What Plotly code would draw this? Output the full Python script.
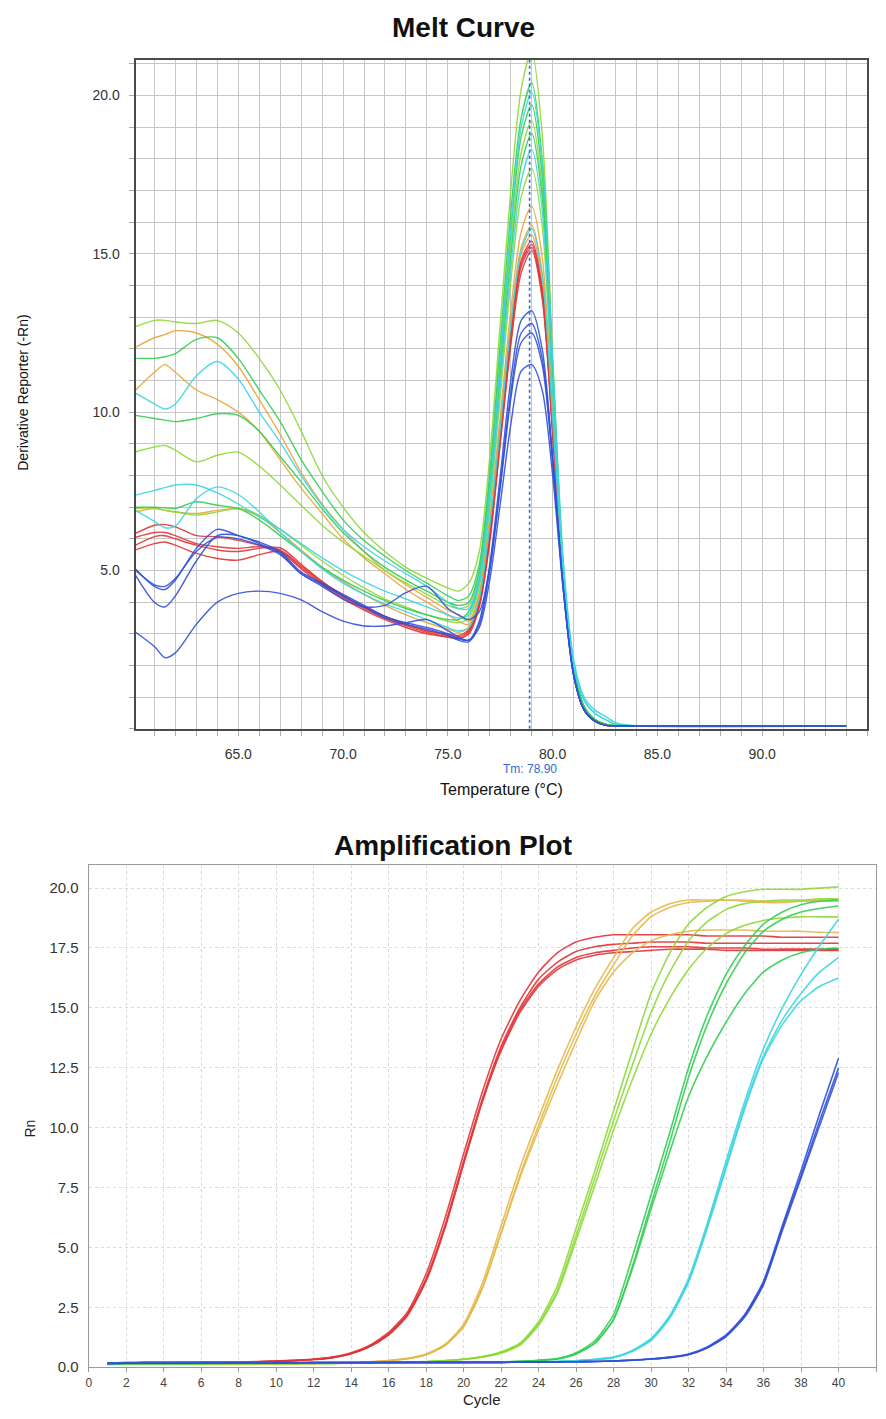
import plotly.graph_objects as go

# ---------------- Melt curve data (Temperature °C vs Derivative Reporter -Rn) ----------------
melt_temp = [60.1, 61, 61.5, 62, 63, 64, 65, 66, 67, 68, 69, 70, 71, 72, 73, 74, 75, 75.5,
             76, 76.5, 77, 77.5, 78, 78.5, 79, 79.5, 80, 80.5, 81, 81.5, 82, 82.5, 83, 84, 94]

melt_ygreen_1 = [12.7, 12.9, 12.9, 12.85, 12.8, 12.9, 12.5, 11.7, 10.7, 9.4, 8.0, 7.0, 6.2, 5.6, 5.1, 4.75, 4.45, 4.35,
                 4.6, 5.6, 8.6, 12.8, 17.0, 20.2, 21.4, 18.8, 11.8, 5.2, 1.9, 0.7, 0.3, 0.15, 0.1, 0.1, 0.1]
melt_green_1 = [11.7, 11.7, 11.75, 11.85, 12.3, 12.35, 11.7, 10.7, 9.7, 8.5, 7.5, 6.6, 5.95, 5.45, 5.0, 4.6, 4.2, 4.05,
                4.2, 5.2, 8.1, 12.2, 16.3, 19.3, 20.4, 18.0, 11.5, 5.1, 1.9, 0.7, 0.3, 0.15, 0.1, 0.1, 0.1]
melt_cyan_1 = [10.6, 10.26, 10.1, 10.26, 11.15, 11.6, 11.05, 10.0, 9.05, 8.0, 7.06, 6.3, 5.75, 5.3, 4.9, 4.5, 4.0, 3.8,
               3.8, 4.8, 7.6, 11.6, 15.8, 19.0, 20.1, 17.9, 11.6, 5.4, 2.2, 1.0, 0.6, 0.4, 0.2, 0.1, 0.1]
melt_green_2 = [9.9, 9.8, 9.75, 9.7, 9.8, 9.95, 9.9, 9.4, 8.6, 7.8, 6.95, 6.2, 5.6, 5.1, 4.7, 4.35, 4.0, 3.9,
                4.0, 5.0, 7.8, 11.7, 15.7, 18.7, 19.7, 17.5, 11.2, 5.0, 1.9, 0.7, 0.3, 0.15, 0.1, 0.1, 0.1]
melt_ygreen_2 = [8.75, 8.9, 8.95, 8.8, 8.43, 8.64, 8.74, 8.3, 7.7, 7.06, 6.43, 5.9, 5.45, 5.0, 4.6, 4.25, 3.9, 3.8,
                 3.9, 4.9, 7.6, 11.4, 15.3, 18.2, 19.2, 17.1, 11.0, 5.0, 1.9, 0.7, 0.3, 0.15, 0.1, 0.1, 0.1]
melt_green_3 = [7.0, 7.0, 6.98, 6.96, 7.17, 7.06, 6.96, 6.6, 6.1, 5.6, 5.1, 4.7, 4.35, 4.05, 3.8, 3.6, 3.45, 3.45,
                3.7, 4.7, 7.4, 11.1, 14.9, 17.8, 18.8, 16.8, 10.9, 5.0, 1.9, 0.7, 0.3, 0.15, 0.1, 0.1, 0.1]
melt_cyan_2 = [7.38, 7.53, 7.62, 7.7, 7.7, 7.45, 7.1, 6.7, 6.3, 5.85, 5.4, 5.0, 4.65, 4.35, 4.1, 3.85, 3.6, 3.5,
               3.6, 4.6, 7.2, 10.8, 14.5, 17.3, 18.3, 16.4, 10.7, 5.2, 2.1, 0.9, 0.5, 0.3, 0.15, 0.1, 0.1]
melt_ygreen_3 = [6.96, 6.98, 6.9, 6.85, 6.75, 6.85, 6.96, 6.75, 6.3, 5.8, 5.3, 4.85, 4.45, 4.1, 3.85, 3.6, 3.4, 3.35,
                 3.5, 4.5, 7.0, 10.5, 14.1, 16.8, 17.7, 15.9, 10.5, 5.0, 1.9, 0.7, 0.3, 0.15, 0.1, 0.1, 0.1]
melt_orange_1 = [12.05, 12.35, 12.45, 12.57, 12.5, 12.15, 11.45, 10.4, 9.3, 8.1, 7.1, 6.3, 5.6, 5.0, 4.55, 4.15, 3.75, 3.6,
                 3.4, 4.3, 6.7, 9.9, 13.2, 15.7, 16.5, 14.9, 10.0, 4.9, 1.85, 0.65, 0.28, 0.13, 0.1, 0.1, 0.1]
melt_orange_2 = [10.7, 11.26, 11.5, 11.26, 10.7, 10.4, 10.0, 9.4, 8.5, 7.6, 6.8, 6.0, 5.4, 4.9, 4.4, 4.0, 3.6, 3.4,
                 3.3, 4.2, 6.5, 9.6, 12.8, 15.2, 15.9, 14.4, 9.8, 4.9, 1.85, 0.65, 0.28, 0.13, 0.1, 0.1, 0.1]
melt_cyan_3 = [6.9, 6.55, 6.35, 6.4, 7.27, 7.64, 7.4, 6.85, 6.2, 5.6, 5.05, 4.6, 4.25, 3.95, 3.7, 3.45, 3.2, 3.1,
               3.2, 4.1, 6.4, 9.5, 12.7, 15.1, 15.8, 14.3, 9.8, 5.0, 2.0, 0.9, 0.5, 0.3, 0.15, 0.1, 0.1]
melt_orange_3 = [6.85, 6.96, 6.9, 6.85, 6.8, 6.9, 6.95, 6.7, 6.2, 5.65, 5.1, 4.65, 4.25, 3.9, 3.6, 3.35, 3.15, 3.05,
                 3.2, 4.1, 6.3, 9.4, 12.6, 15.0, 15.6, 14.1, 9.6, 4.85, 1.8, 0.62, 0.26, 0.12, 0.1, 0.1, 0.1]
melt_red_1 = [6.17, 6.43, 6.45, 6.38, 6.1, 6.07, 5.95, 5.8, 5.65, 5.15, 4.65, 4.2, 3.85, 3.55, 3.3, 3.1, 2.95, 2.9,
              3.1, 4.0, 6.2, 9.3, 12.5, 14.8, 15.4, 13.9, 9.5, 4.8, 1.8, 0.6, 0.25, 0.12, 0.1, 0.1, 0.1]
melt_red_2 = [5.8, 6.07, 6.1, 6.0, 5.8, 5.65, 5.6, 5.7, 5.72, 5.2, 4.65, 4.2, 3.85, 3.55, 3.3, 3.1, 3.0, 2.95,
              3.15, 4.0, 6.1, 9.2, 12.4, 14.7, 15.3, 13.8, 9.4, 4.75, 1.8, 0.6, 0.25, 0.12, 0.1, 0.1, 0.1]
melt_red_3 = [5.65, 5.85, 5.9, 5.8, 5.54, 5.38, 5.33, 5.5, 5.6, 5.1, 4.6, 4.15, 3.8, 3.5, 3.25, 3.05, 2.9, 2.85,
              3.05, 3.9, 6.0, 9.1, 12.2, 14.6, 15.2, 13.7, 9.4, 4.75, 1.8, 0.6, 0.25, 0.12, 0.1, 0.1, 0.1]
melt_red_4 = [6.05, 6.2, 6.2, 6.1, 5.85, 5.75, 5.7, 5.75, 5.6, 5.05, 4.55, 4.1, 3.75, 3.45, 3.2, 3.0, 2.9, 2.85,
              3.0, 3.85, 5.9, 9.0, 12.1, 14.4, 15.1, 13.6, 9.3, 4.7, 1.75, 0.6, 0.25, 0.12, 0.1, 0.1, 0.1]
melt_blue_1 = [5.05, 4.5, 4.4, 4.7, 5.7, 6.3, 6.1, 5.9, 5.6, 4.95, 4.6, 4.25, 3.9, 3.55, 3.35, 3.2, 3.0, 2.85,
               2.8, 3.4, 5.2, 8.0, 11.0, 12.9, 13.2, 12.0, 8.6, 4.5, 1.7, 0.6, 0.25, 0.12, 0.1, 0.1, 0.1]
melt_blue_2 = [4.85, 4.0, 3.85, 4.2, 5.3, 6.1, 6.1, 5.85, 5.55, 4.9, 4.55, 4.2, 3.85, 3.5, 3.3, 3.15, 2.95, 2.8,
               2.75, 3.3, 5.0, 7.7, 10.6, 12.5, 12.8, 11.7, 8.5, 4.5, 1.7, 0.6, 0.25, 0.12, 0.1, 0.1, 0.1]
melt_blue_3 = [5.0, 4.55, 4.5, 4.75, 5.6, 6.05, 6.0, 5.8, 5.5, 4.9, 4.5, 4.1, 3.85, 3.9, 4.3, 4.5, 3.8, 3.6,
               3.45, 3.7, 5.1, 7.6, 10.4, 12.2, 12.5, 11.5, 8.4, 4.5, 1.7, 0.6, 0.25, 0.12, 0.1, 0.1, 0.1]
melt_blue_4 = [3.05, 2.6, 2.25, 2.4, 3.3, 4.0, 4.28, 4.35, 4.28, 4.07, 3.7, 3.4, 3.25, 3.25, 3.35, 3.45, 3.1, 2.9,
               2.8, 3.2, 4.7, 7.1, 9.6, 11.3, 11.5, 10.7, 8.0, 4.4, 1.7, 0.6, 0.25, 0.12, 0.1, 0.1, 0.1]

melt_tm = 78.9
melt_tm_label = "Tm: 78.90"
melt_ytick_vals = [5, 10, 15, 20]

# ---------------- Amplification plot data (Cycle vs Rn) ----------------
cycles = list(range(1, 41))

amp_red_1 = [0.15, 0.18, 0.19, 0.19, 0.19, 0.2, 0.2, 0.21, 0.23, 0.25,
             0.28, 0.33, 0.42, 0.6, 0.92, 1.45, 2.3, 3.9, 6.2, 8.9,
             11.5, 13.7, 15.3, 16.5, 17.3, 17.75, 17.95, 18.05, 18.05, 18.05,
             18.05, 18.05, 18.0, 18.0, 18.0, 18.0, 17.95, 17.95, 17.95, 17.95]
amp_red_2 = [0.16, 0.18, 0.19, 0.19, 0.2, 0.2, 0.2, 0.21, 0.23, 0.25,
             0.28, 0.32, 0.4, 0.57, 0.88, 1.38, 2.2, 3.7, 5.9, 8.6,
             11.2, 13.4, 15.0, 16.2, 16.9, 17.35, 17.55, 17.65, 17.7, 17.75,
             17.75, 17.75, 17.7, 17.7, 17.7, 17.7, 17.7, 17.7, 17.7, 17.7]
amp_red_3 = [0.17, 0.19, 0.2, 0.2, 0.2, 0.2, 0.21, 0.22, 0.23, 0.25,
             0.28, 0.32, 0.4, 0.56, 0.86, 1.35, 2.15, 3.6, 5.8, 8.5,
             11.1, 13.3, 14.9, 16.0, 16.7, 17.1, 17.3, 17.4, 17.5, 17.55,
             17.55, 17.55, 17.5, 17.5, 17.5, 17.45, 17.45, 17.45, 17.45, 17.45]
amp_red_4 = [0.17, 0.19, 0.2, 0.2, 0.2, 0.21, 0.21, 0.22, 0.24, 0.26,
             0.29, 0.33, 0.41, 0.57, 0.87, 1.37, 2.2, 3.65, 5.85, 8.5,
             11.1, 13.2, 14.8, 15.9, 16.6, 17.0, 17.2, 17.3, 17.35, 17.4,
             17.45, 17.45, 17.45, 17.4, 17.4, 17.4, 17.4, 17.4, 17.4, 17.4]
amp_orange_1 = [0.12, 0.13, 0.13, 0.13, 0.13, 0.13, 0.14, 0.14, 0.14, 0.14,
                0.15, 0.16, 0.18, 0.2, 0.23, 0.28, 0.37, 0.55, 0.95, 1.8,
                3.5, 5.9, 8.3, 10.4, 12.4, 14.2, 15.8, 17.1, 18.3, 19.0,
                19.35, 19.5, 19.5, 19.5, 19.5, 19.45, 19.45, 19.45, 19.5, 19.5]
amp_orange_2 = [0.12, 0.13, 0.13, 0.13, 0.13, 0.13, 0.13, 0.14, 0.14, 0.14,
                0.15, 0.16, 0.17, 0.19, 0.22, 0.27, 0.35, 0.52, 0.9, 1.7,
                3.3, 5.6, 8.0, 10.1, 12.1, 13.9, 15.5, 16.8, 18.0, 18.8,
                19.2, 19.4, 19.45, 19.5, 19.45, 19.4, 19.4, 19.45, 19.45, 19.45]
amp_orange_3 = [0.12, 0.13, 0.13, 0.13, 0.13, 0.13, 0.14, 0.14, 0.14, 0.15,
                0.15, 0.16, 0.17, 0.19, 0.22, 0.27, 0.35, 0.52, 0.9, 1.7,
                3.3, 5.6, 7.9, 9.9, 11.8, 13.6, 15.3, 16.5, 17.3, 17.8,
                18.05, 18.2, 18.25, 18.25, 18.25, 18.2, 18.2, 18.2, 18.15, 18.15]
amp_ygreen_1 = [0.13, 0.14, 0.14, 0.14, 0.14, 0.14, 0.14, 0.14, 0.15, 0.15,
                0.15, 0.16, 0.16, 0.17, 0.18, 0.19, 0.21, 0.24, 0.28, 0.34,
                0.45, 0.65, 1.0, 1.9, 3.4, 5.8, 8.2, 10.7, 13.2, 15.6,
                17.3, 18.5, 19.2, 19.65, 19.85, 19.95, 19.95, 19.95, 20.0, 20.05]
amp_ygreen_2 = [0.13, 0.14, 0.14, 0.14, 0.14, 0.14, 0.14, 0.15, 0.15, 0.15,
                0.15, 0.16, 0.16, 0.17, 0.18, 0.19, 0.2, 0.23, 0.27, 0.33,
                0.43, 0.6, 0.95, 1.8, 3.2, 5.5, 7.9, 10.3, 12.6, 14.8,
                16.5, 17.8, 18.6, 19.1, 19.35, 19.45, 19.5, 19.5, 19.55, 19.55]
amp_ygreen_3 = [0.13, 0.14, 0.14, 0.14, 0.14, 0.14, 0.15, 0.15, 0.15, 0.15,
                0.15, 0.16, 0.16, 0.17, 0.18, 0.19, 0.2, 0.23, 0.27, 0.32,
                0.42, 0.58, 0.92, 1.75, 3.1, 5.3, 7.6, 9.9, 12.0, 13.9,
                15.4, 16.6, 17.5, 18.1, 18.45, 18.65, 18.75, 18.8, 18.8, 18.8]
amp_green_1 = [0.15, 0.16, 0.16, 0.16, 0.16, 0.16, 0.16, 0.17, 0.17, 0.17,
               0.17, 0.17, 0.18, 0.18, 0.18, 0.18, 0.19, 0.19, 0.2, 0.2,
               0.21, 0.22, 0.25, 0.29, 0.36, 0.6, 1.1, 2.2, 4.6, 7.2,
               9.8, 12.5, 14.7, 16.4, 17.6, 18.5, 19.0, 19.3, 19.45, 19.5]
amp_green_2 = [0.15, 0.16, 0.16, 0.16, 0.16, 0.16, 0.17, 0.17, 0.17, 0.17,
               0.17, 0.18, 0.18, 0.18, 0.18, 0.19, 0.19, 0.19, 0.2, 0.2,
               0.21, 0.22, 0.24, 0.28, 0.34, 0.56, 1.0, 2.0, 4.2, 6.8,
               9.4, 12.1, 14.3, 16.0, 17.3, 18.2, 18.7, 19.0, 19.15, 19.25]
amp_green_3 = [0.15, 0.16, 0.16, 0.16, 0.16, 0.17, 0.17, 0.17, 0.17, 0.17,
               0.18, 0.18, 0.18, 0.18, 0.19, 0.19, 0.19, 0.2, 0.2, 0.2,
               0.21, 0.22, 0.24, 0.28, 0.34, 0.55, 1.0, 2.0, 4.1, 6.6,
               9.0, 11.3, 13.0, 14.4, 15.6, 16.5, 17.0, 17.3, 17.45, 17.5]
amp_cyan_1 = [0.16, 0.17, 0.17, 0.17, 0.17, 0.17, 0.17, 0.18, 0.18, 0.18,
              0.18, 0.18, 0.19, 0.19, 0.19, 0.19, 0.2, 0.2, 0.2, 0.2,
              0.2, 0.2, 0.21, 0.22, 0.24, 0.27, 0.33, 0.42, 0.7, 1.2,
              2.15, 3.7, 6.0, 8.6, 11.1, 13.3, 15.0, 16.4, 17.6, 18.7]
amp_cyan_2 = [0.16, 0.17, 0.17, 0.17, 0.17, 0.17, 0.18, 0.18, 0.18, 0.18,
              0.18, 0.19, 0.19, 0.19, 0.19, 0.2, 0.2, 0.2, 0.2, 0.2,
              0.2, 0.2, 0.21, 0.22, 0.24, 0.27, 0.32, 0.41, 0.68, 1.15,
              2.1, 3.6, 5.9, 8.4, 10.9, 13.0, 14.5, 15.6, 16.5, 17.1]
amp_cyan_3 = [0.16, 0.17, 0.17, 0.17, 0.17, 0.18, 0.18, 0.18, 0.18, 0.18,
              0.19, 0.19, 0.19, 0.19, 0.2, 0.2, 0.2, 0.2, 0.2, 0.2,
              0.2, 0.21, 0.21, 0.22, 0.24, 0.27, 0.32, 0.4, 0.66, 1.12,
              2.05, 3.55, 5.8, 8.3, 10.8, 12.9, 14.3, 15.3, 15.9, 16.25]
amp_blue_1 = [0.16, 0.17, 0.17, 0.17, 0.17, 0.18, 0.18, 0.18, 0.18, 0.18,
              0.18, 0.19, 0.19, 0.19, 0.19, 0.19, 0.2, 0.2, 0.2, 0.2,
              0.2, 0.2, 0.21, 0.21, 0.22, 0.23, 0.24, 0.26, 0.3, 0.35,
              0.42, 0.55, 0.85, 1.35, 2.2, 3.6, 5.9, 8.2, 10.6, 12.9]
amp_blue_2 = [0.16, 0.17, 0.17, 0.17, 0.18, 0.18, 0.18, 0.18, 0.18, 0.18,
              0.19, 0.19, 0.19, 0.19, 0.19, 0.2, 0.2, 0.2, 0.2, 0.2,
              0.2, 0.2, 0.21, 0.21, 0.22, 0.23, 0.24, 0.26, 0.29, 0.34,
              0.41, 0.53, 0.82, 1.3, 2.15, 3.5, 5.8, 8.0, 10.3, 12.5]
amp_blue_3 = [0.16, 0.17, 0.17, 0.18, 0.18, 0.18, 0.18, 0.18, 0.18, 0.19,
              0.19, 0.19, 0.19, 0.19, 0.2, 0.2, 0.2, 0.2, 0.2, 0.2,
              0.2, 0.2, 0.21, 0.21, 0.22, 0.23, 0.24, 0.26, 0.29, 0.34,
              0.4, 0.52, 0.8, 1.28, 2.1, 3.45, 5.7, 7.9, 10.1, 12.3]

# ---------------- Colours ----------------
C_RED = "#e2383b"
C_ORANGE_M = "#e9a63e"
C_ORANGE_A = "#e6b94c"
C_YGREEN = "#8fd93a"
C_GREEN = "#34cf55"
C_CYAN = "#3fd5e2"
C_BLUE = "#3150da"

FONT = "Liberation Sans, Arial, sans-serif"

fig = go.Figure()

melt_series = [
    (melt_orange_1, C_ORANGE_M), (melt_orange_2, C_ORANGE_M), (melt_orange_3, C_ORANGE_M),
    (melt_red_1, C_RED), (melt_red_2, C_RED), (melt_red_3, C_RED), (melt_red_4, C_RED),
    (melt_ygreen_1, C_YGREEN), (melt_ygreen_2, C_YGREEN), (melt_ygreen_3, C_YGREEN),
    (melt_green_1, C_GREEN), (melt_green_2, C_GREEN), (melt_green_3, C_GREEN),
    (melt_cyan_1, C_CYAN), (melt_cyan_2, C_CYAN), (melt_cyan_3, C_CYAN),
    (melt_blue_1, C_BLUE), (melt_blue_2, C_BLUE), (melt_blue_3, C_BLUE), (melt_blue_4, C_BLUE),
]
for ys, col in melt_series:
    fig.add_trace(go.Scatter(x=melt_temp, y=ys, mode="lines", xaxis="x", yaxis="y",
                             line=dict(color=col, width=1.4, shape="spline", smoothing=0.8),
                             opacity=0.9, showlegend=False, hoverinfo="skip"))

amp_series = [
    (amp_red_1, C_RED), (amp_red_2, C_RED), (amp_red_3, C_RED), (amp_red_4, C_RED),
    (amp_orange_1, C_ORANGE_A), (amp_orange_2, C_ORANGE_A), (amp_orange_3, C_ORANGE_A),
    (amp_ygreen_1, C_YGREEN), (amp_ygreen_2, C_YGREEN), (amp_ygreen_3, C_YGREEN),
    (amp_green_1, C_GREEN), (amp_green_2, C_GREEN), (amp_green_3, C_GREEN),
    (amp_cyan_1, C_CYAN), (amp_cyan_2, C_CYAN), (amp_cyan_3, C_CYAN),
    (amp_blue_1, C_BLUE), (amp_blue_2, C_BLUE), (amp_blue_3, C_BLUE),
]
for ys, col in amp_series:
    fig.add_trace(go.Scatter(x=cycles, y=ys, mode="lines", xaxis="x2", yaxis="y2",
                             line=dict(color=col, width=1.6, shape="spline", smoothing=0.6),
                             opacity=0.9, showlegend=False, hoverinfo="skip"))

# The page body keeps its 8px margin; size the figure so the page fits the 886x1419 window exactly.
OFF = 8
W, H = 886 - 2 * OFF, 1419 - 2 * OFF
def px_x(p):
    return (p - OFF) / W
def px_y(p):
    return 1 - (p - OFF) / H

grid_top = "#c6c6c6"
grid_bot = "#dadada"

fig.update_layout(
    width=W, height=H, autosize=False,
    margin=dict(l=0, r=0, t=0, b=0),
    paper_bgcolor="white", plot_bgcolor="white",
    font=dict(family=FONT, color="#222"),
    xaxis=dict(domain=[px_x(133), px_x(867)], anchor="y", range=[60.1, 95],
               tick0=0, dtick=5, tickformat=".1f",
               showgrid=True, gridcolor=grid_top, gridwidth=1.3,
               minor=dict(tickmode="linear", dtick=1, tick0=0, showgrid=True, gridcolor=grid_top, gridwidth=1.3,
                          ticks="outside", ticklen=5, tickcolor="#aaaaaa"),
               ticks="outside", ticklen=5, tickcolor="#aaaaaa",
               showline=True, linecolor="#4a4a4a", linewidth=2, mirror=True,
               zeroline=False, tickfont=dict(size=14, color="#333"), ticklabelstandoff=6),
    yaxis=dict(domain=[px_y(733), px_y(60)], anchor="x", range=[0, 21.13],
               tickmode="array", tickvals=melt_ytick_vals, tickformat=".1f",
               showgrid=True, gridcolor=grid_top, gridwidth=1.3,
               minor=dict(tickmode="linear", dtick=1, tick0=0, showgrid=True, gridcolor=grid_top, gridwidth=1.3,
                          ticks="outside", ticklen=5, tickcolor="#aaaaaa"),
               ticks="outside", ticklen=5, tickcolor="#aaaaaa",
               showline=True, linecolor="#4a4a4a", linewidth=2, mirror=True,
               zeroline=False, tickfont=dict(size=14, color="#333"), ticklabelstandoff=6),
    xaxis2=dict(domain=[px_x(86), px_x(876)], anchor="y2", range=[0, 42],
                tick0=0, dtick=2,
                showgrid=True, gridcolor=grid_bot, gridwidth=1, griddash="dot",
                ticks="outside", ticklen=4, tickcolor="#999999",
                showline=True, linecolor="#9a9a9a", linewidth=1.2, mirror=True,
                zeroline=False, tickfont=dict(size=12, color="#444")),
    yaxis2=dict(domain=[px_y(1375), px_y(870)], anchor="x2", range=[0, 20.96],
                tick0=0, dtick=2.5, tickformat=".1f",
                showgrid=True, gridcolor=grid_bot, gridwidth=1, griddash="dot",
                ticks="", showline=True, linecolor="#9a9a9a", linewidth=1.2, mirror=True,
                zeroline=False, tickfont=dict(size=15, color="#333"), ticklabelstandoff=6),
)

# Tm marker line
fig.add_shape(type="line", xref="x", yref="y", x0=melt_tm, x1=melt_tm, y0=0, y1=21.13,
              line=dict(color="#2f6ad3", width=1.6, dash="dot"))

ann = []
ann.append(dict(text="<b>Melt Curve</b>", x=px_x(462), y=px_y(28), xref="paper", yref="paper",
                showarrow=False, font=dict(size=28, color="#111", family=FONT), xanchor="center", yanchor="middle"))
ann.append(dict(text="Temperature (°C)", x=px_x(500), y=px_y(794), xref="paper", yref="paper",
                showarrow=False, font=dict(size=16, color="#111"), xanchor="center", yanchor="middle"))
ann.append(dict(text=melt_tm_label, x=melt_tm, y=px_y(773), xref="x", yref="paper",
                showarrow=False, font=dict(size=12, color="#2f6ad3"), xanchor="center", yanchor="middle"))
ann.append(dict(text="Derivative Reporter (-Rn)", x=px_x(20), y=px_y(395), xref="paper", yref="paper",
                showarrow=False, textangle=-90, font=dict(size=14, color="#111"), xanchor="center", yanchor="middle"))
ann.append(dict(text="<b>Amplification Plot</b>", x=px_x(452), y=px_y(850), xref="paper", yref="paper",
                showarrow=False, font=dict(size=28, color="#111", family=FONT), xanchor="center", yanchor="middle"))
ann.append(dict(text="Rn", x=px_x(27), y=px_y(1135), xref="paper", yref="paper",
                showarrow=False, textangle=-90, font=dict(size=14, color="#222"), xanchor="center", yanchor="middle"))
ann.append(dict(text="Cycle", x=px_x(481), y=px_y(1407), xref="paper", yref="paper",
                showarrow=False, font=dict(size=15, color="#222"), xanchor="center", yanchor="middle"))
fig.update_layout(annotations=ann)

fig.write_html("out.html")
